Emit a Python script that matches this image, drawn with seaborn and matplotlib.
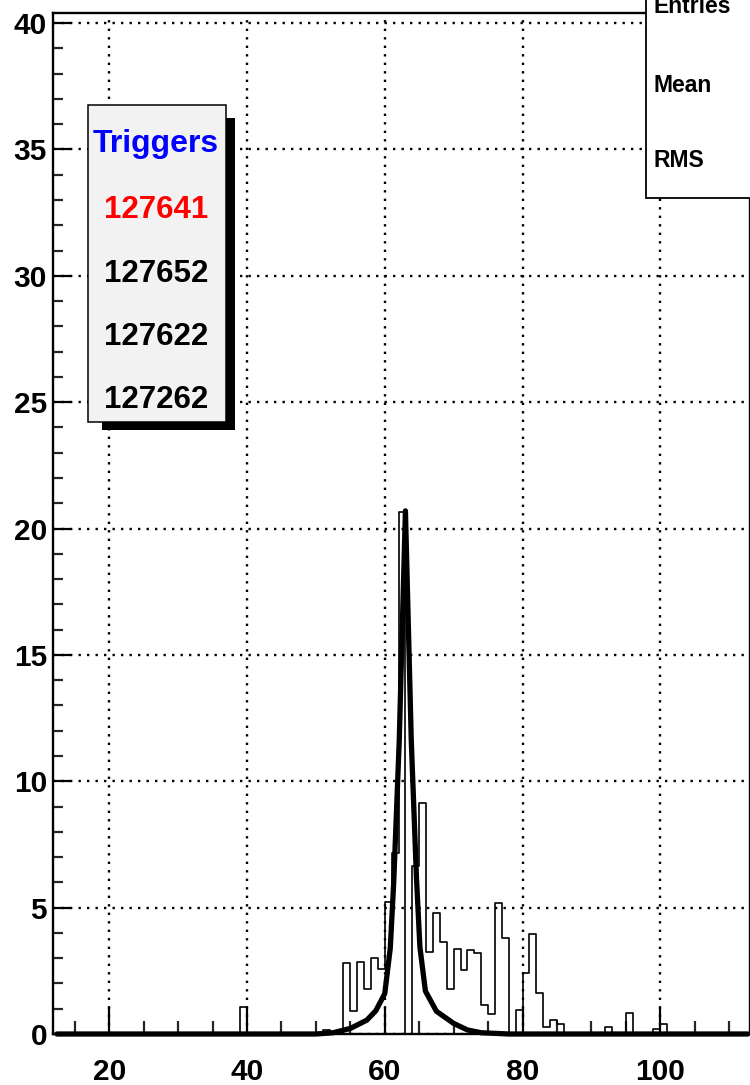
import numpy as np
import pandas as pd
import matplotlib
matplotlib.use("Agg")
import matplotlib.pyplot as plt
from matplotlib.patches import Rectangle
from matplotlib.ticker import MultipleLocator
import seaborn as sns

# ---------------- data ----------------
bin_low = [39, 51, 54, 55, 56, 57, 58, 59, 60, 61,
           62, 64, 65, 66, 67, 68, 69, 70, 71, 72,
           73, 74, 75, 76, 77, 79, 80, 81, 82, 83,
           84, 85, 92, 95, 99, 100]
bin_content = [1.08, 0.16, 2.80, 0.92, 2.86, 1.77, 3.00, 2.56, 5.24, 7.15,
               20.67, 6.65, 9.15, 3.26, 4.80, 3.65, 1.77, 3.36, 2.53, 3.32,
               3.22, 1.15, 0.79, 5.17, 3.78, 0.95, 2.43, 3.96, 1.61, 0.29,
               0.55, 0.40, 0.29, 0.82, 0.21, 0.40]
hist_range = (12, 113)

fit_x = [12.4, 50.0, 52.5, 55.0, 57.4, 58.7, 60.0, 60.8, 61.3, 62.1, 63.0,
         63.85, 64.6, 65.1, 65.9, 67.5, 70.0, 72.0, 74.0, 78.0, 112.7]
fit_y = [0.0, 0.0, 0.05, 0.22, 0.55, 0.92, 1.6, 3.4, 6.0, 11.6, 20.7,
         11.6, 6.2, 3.45, 1.7, 0.9, 0.42, 0.16, 0.05, 0.0, 0.0]

legend_title = "Triggers"
legend_entries = ["127641", "127652", "127622", "127262"]
legend_colors = ["red", "black", "black", "black"]
stats_labels = ["Entries", "Mean", "RMS"]

# ---------------- figure ----------------
sns.set_theme(style="white")
plt.rcParams["font.family"] = ["Liberation Sans", "DejaVu Sans"]
plt.rcParams["font.weight"] = "bold"

W, H = 750, 1085
fig = plt.figure(figsize=(W / 100, H / 100), dpi=100)
fig.patch.set_facecolor("white")


def fx(px):
    return px / W


def fy(py):
    return 1 - py / H


ax = fig.add_axes([fx(53.3), fy(1034), fx(749.5) - fx(53.3), fy(13) - fy(1034)])
ax.set_facecolor("white")

hist_df = pd.DataFrame({"center": np.array(bin_low, dtype=float) + 0.5,
                        "content": np.array(bin_content, dtype=float)})
fit_df = pd.DataFrame({"x": fit_x, "y": fit_y})

sns.histplot(data=hist_df, x="center", weights="content", binwidth=1,
             binrange=hist_range, element="step", fill=False, color="black",
             linewidth=1.2, ax=ax)
sns.lineplot(data=fit_df, x="x", y="y", sort=False, estimator=None,
             color="black", linewidth=3.8, ax=ax, clip_on=False, zorder=5)

ax.set_xlim(11.87, 112.96)
ax.set_ylim(0, 40.4)
ax.set_xlabel("")
ax.set_ylabel("")

ax.xaxis.set_major_locator(MultipleLocator(20))
ax.xaxis.set_minor_locator(MultipleLocator(5))
ax.yaxis.set_major_locator(MultipleLocator(5))
ax.yaxis.set_minor_locator(MultipleLocator(1))
ax.tick_params(axis="x", which="major", direction="in", length=19.5, width=1.6,
               pad=17.0, labelsize=21.5, colors="black", bottom=True, top=False)
ax.tick_params(axis="x", which="minor", direction="in", length=9.5, width=1.6,
               bottom=True, top=False)
ax.tick_params(axis="y", which="major", direction="in", length=13, width=1.6,
               pad=4.5, labelsize=21.5, colors="black", left=True, right=False)
ax.tick_params(axis="y", which="minor", direction="in", length=7.5, width=1.6,
               left=True, right=False)
for lab in ax.get_xticklabels() + ax.get_yticklabels():
    lab.set_fontweight("bold")

ax.grid(True, which="major", color="black", linestyle=(0, (1, 2.6)), linewidth=1.7)
ax.set_axisbelow(True)
for s in ["left", "top", "bottom"]:
    ax.spines[s].set_color("black")
    ax.spines[s].set_linewidth(1.7)
ax.spines["right"].set_color("black")
ax.spines["right"].set_linewidth(1.0)

# ---------------- Triggers legend box ----------------
shadow = Rectangle((fx(101.7), fy(430)), fx(235) - fx(101.7), fy(118) - fy(430),
                   transform=fig.transFigure, facecolor="black", edgecolor="none",
                   zorder=10)
box = Rectangle((fx(88.3), fy(421.7)), fx(226) - fx(88.3), fy(105) - fy(421.7),
                transform=fig.transFigure, facecolor="#f2f2f2", edgecolor="black",
                linewidth=1.1, zorder=11)
fig.patches.extend([shadow, box])

fig.text(fx(156), fy(151.7), legend_title, color="#0000ff", fontsize=23,
         fontweight="bold", ha="center", va="baseline", zorder=12)
baselines = [218.3, 281.7, 345.0, 408.3]
for t, c, b in zip(legend_entries, legend_colors, baselines):
    fig.text(fx(156.5), fy(b), t, color=c, fontsize=22.5, fontweight="bold",
             ha="center", va="baseline", zorder=12)

# ---------------- stats box (top right, cut off) ----------------
stats = Rectangle((fx(645.7), fy(198)), fx(800) - fx(645.7), fy(-20) - fy(198),
                  transform=fig.transFigure, facecolor="white", edgecolor="black",
                  linewidth=1.3, zorder=10)
fig.patches.append(stats)
for t, b in zip(stats_labels, [13.3, 91.7, 166.7]):
    fig.text(fx(653.3), fy(b), t, color="black", fontsize=16.5, fontweight="bold",
             ha="left", va="baseline", zorder=12)

fig.savefig("out.png", dpi=100, facecolor="white")
